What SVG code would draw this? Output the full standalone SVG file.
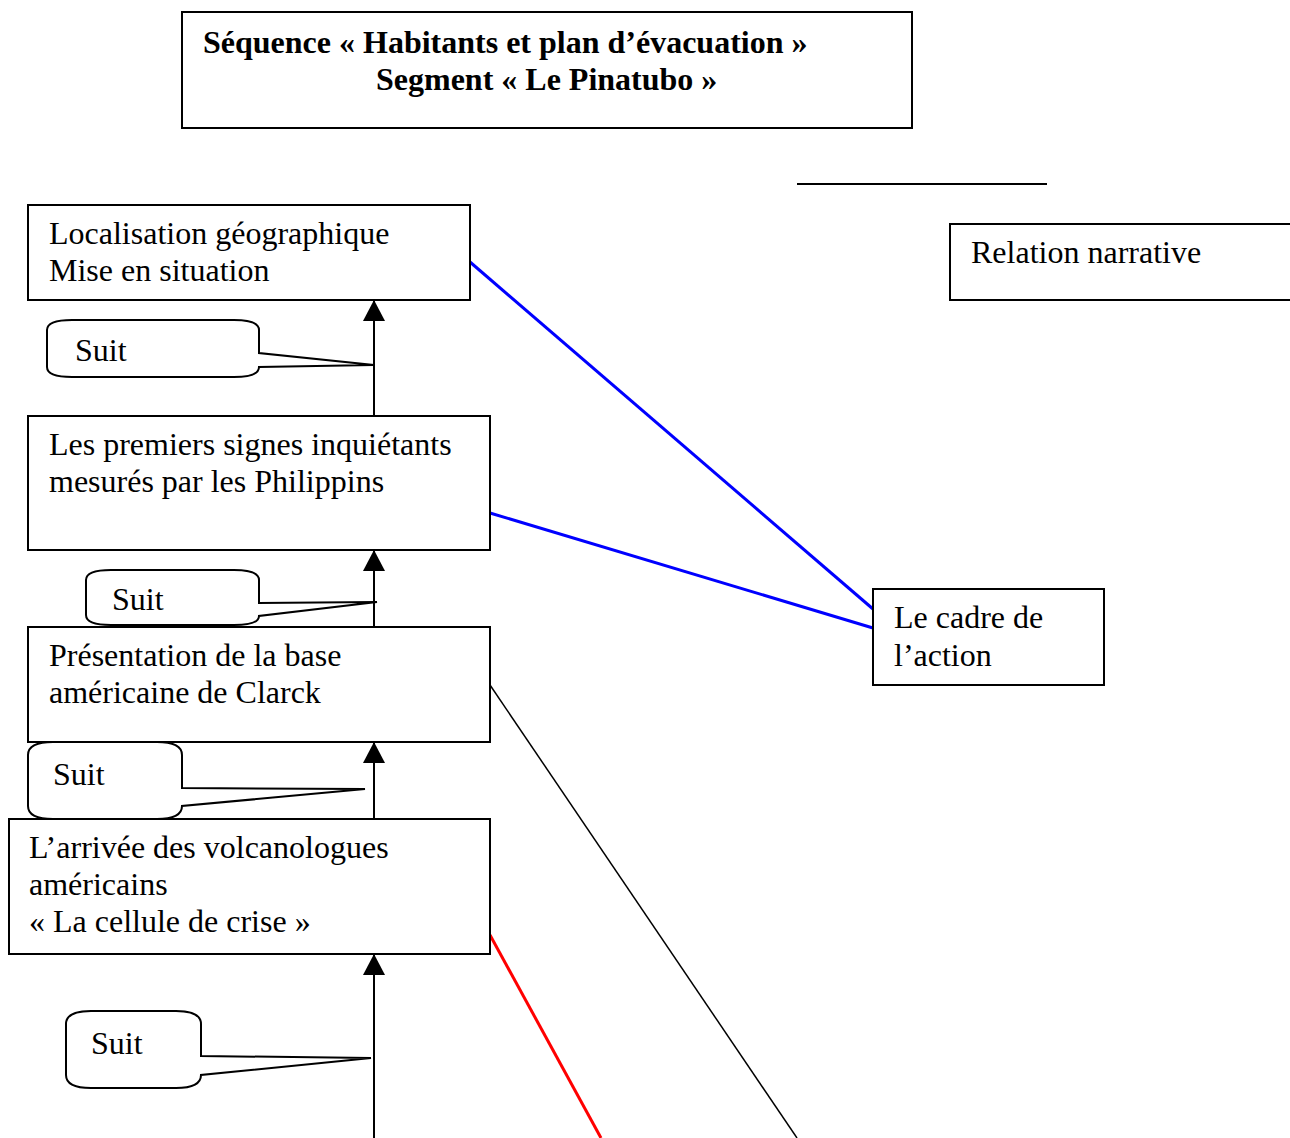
<svg xmlns="http://www.w3.org/2000/svg" width="1290" height="1138" viewBox="0 0 1290 1138">
<style>
.box{fill:#fff;stroke:#000;stroke-width:2}
.t{font-family:"Liberation Serif","Times New Roman",serif;font-size:32px;fill:#000}
.tb{font-family:"Liberation Serif","Times New Roman",serif;font-size:32px;font-weight:bold;fill:#000}
.call{fill:#fff;stroke:#000;stroke-width:2;stroke-linejoin:miter}
.arr{stroke:#000;stroke-width:2;fill:none;marker-end:url(#ah)}
.blue{stroke:#0000ff;stroke-width:3;fill:none}
</style>
<defs>
<marker id="ah" markerUnits="userSpaceOnUse" markerWidth="22" markerHeight="22" viewBox="0 0 22 22" refX="20" refY="11" orient="auto">
<path d="M0,0 L21,11 L0,22 Z" fill="#000"/>
</marker>
</defs>
<rect width="1290" height="1138" fill="#fff"/>

<g id="title">
<rect class="box" x="182" y="12" width="730" height="116"/>
<text class="tb" x="203" y="53">Séquence « Habitants et plan d’évacuation »</text>
<text class="tb" x="376" y="90">Segment « Le Pinatubo »</text>
</g>

<g id="legend-line"><line x1="797" y1="184" x2="1047" y2="184" stroke="#000" stroke-width="2"/></g>

<g id="legend">
<path d="M1292,224 H950 V300 H1292" fill="#fff" stroke="#000" stroke-width="2"/>
<text class="t" x="971" y="263">Relation narrative</text>
</g>

<g id="connectors">
<line class="arr" x1="374" y1="416" x2="374" y2="301"/>
<line class="arr" x1="374" y1="627" x2="374" y2="551"/>
<line class="arr" x1="374" y1="819" x2="374" y2="743"/>
<line class="arr" x1="374" y1="1140" x2="374" y2="955"/>
<line class="blue" x1="470" y1="262" x2="873" y2="609"/>
<line class="blue" x1="490" y1="513" x2="873" y2="628"/>
<line x1="490" y1="685" x2="797" y2="1138" stroke="#000" stroke-width="1.5"/>
<line x1="490" y1="935" x2="601" y2="1138" stroke="#ff0000" stroke-width="3"/>
</g>

<g id="node1">
<rect class="box" x="28" y="205" width="442" height="95"/>
<text class="t" x="49" y="244">Localisation géographique</text>
<text class="t" x="49" y="281">Mise en situation</text>
</g>

<g id="node2">
<rect class="box" x="28" y="416" width="462" height="134"/>
<text class="t" x="49" y="455">Les premiers signes inquiétants</text>
<text class="t" x="49" y="492">mesurés par les Philippins</text>
</g>

<g id="node3">
<rect class="box" x="28" y="627" width="462" height="115"/>
<text class="t" x="49" y="666">Présentation de la base</text>
<text class="t" x="49" y="703">américaine de Clarck</text>
</g>

<g id="node4">
<rect class="box" x="9" y="819" width="481" height="135"/>
<text class="t" x="29" y="858">L’arrivée des volcanologues</text>
<text class="t" x="29" y="895">américains</text>
<text class="t" x="29" y="932">« La cellule de crise »</text>
</g>

<g id="node-cadre">
<rect class="box" x="873" y="589" width="231" height="96"/>
<text class="t" x="894" y="628">Le cadre de</text>
<text class="t" x="894" y="666">l’action</text>
</g>

<g id="callout1">
<path class="call" d="M72,320 H234 Q259,320 259,330 V353 L374,365 L259,367 Q259,377 234,377 H72 Q47,377 47,367 V330 Q47,320 72,320 Z"/>
<text class="t" x="75" y="361">Suit</text>
</g>

<g id="callout2">
<path class="call" d="M111,570 H234 Q259,570 259,580 V603 L377,602 L259,616 Q259,625 234,625 H111 Q86,625 86,615 V580 Q86,570 111,570 Z"/>
<text class="t" x="112" y="610">Suit</text>
</g>

<g id="callout3">
<path class="call" d="M53,742 H157 Q182,742 182,755 V788 L365,789 L182,806 Q182,819 157,819 H53 Q28,819 28,806 V755 Q28,742 53,742 Z"/>
<text class="t" x="53" y="785">Suit</text>
</g>

<g id="callout4">
<path class="call" d="M91,1011 H176 Q201,1011 201,1024 V1056 L371,1058 L201,1075 Q201,1088 176,1088 H91 Q66,1088 66,1075 V1024 Q66,1011 91,1011 Z"/>
<text class="t" x="91" y="1054">Suit</text>
</g>
</svg>
